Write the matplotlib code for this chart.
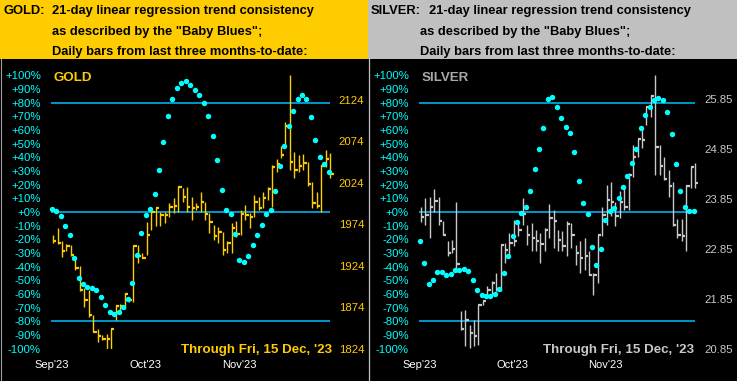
import matplotlib
matplotlib.use('Agg')
import matplotlib.pyplot as plt
from matplotlib.patches import Rectangle
from matplotlib.lines import Line2D

plt.rcParams['font.family'] = ['Liberation Sans', 'DejaVu Sans']

# ---- data ----
months = ["Sep'23", "Oct'23", "Nov'23"]
month_pos = [0, 21, 42]
pct_ticks = list(range(-100, 101, 10))
levels = [80, 0, -80]

gold_blues = [2, 1, -3, -10.5, -17, -33.5, -48, -53, -54.5, -55.5,
              -57.4, -62, -67.7, -73.5, -74.5, -72.8, -69.4, -64, -51.6, -31.8,
              -15.2, -2.5, 2, 12.9, 30.5, 51, 70, 82.3, 90.5, 94.7,
              95.7, 92.7, 88.9, 85.4, 80, 70.5, 55.9, 37.8, 16.3, 1.7,
              -1.7, -16.4, -35.4, -36.9, -32.5, -24.5, -17.1, -9.8, -1.7, 1.7,
              15.6, 33.9, 48.6, 62.7, 73.7, 82.3, 85.4, 82.3, 69.3, 52.5,
              40, 34.9, 29]
gold_high = [1961, 1969, 1953, 1950, 1949, 1935, 1923, 1897, 1895, 1864,
             1848, 1840, 1842, 1848, 1876, 1878, 1891, 1885, 1947, 1949,
             1939, 1976, 1990, 1995, 1989, 1989, 1999, 2005, 2020, 2017,
             2019, 2007, 1999, 2013, 2001, 1987, 1973, 1971, 1965, 1953,
             1975, 1978, 1991, 1997, 1987, 2009, 2007, 2013, 2019, 2045,
             2052, 2068, 2097, 2153, 2061, 2057, 2058, 2049, 2025, 2012,
             2045, 2063, 2060]
gold_low = [1951, 1950, 1934, 1941, 1935, 1919, 1893, 1874, 1862, 1844,
            1832, 1834, 1824, 1824, 1858, 1868, 1872, 1880, 1880, 1927,
            1933, 1937, 1967, 1972, 1972, 1975, 1983, 1987, 1989, 2001,
            1989, 1979, 1991, 1989, 1979, 1963, 1955, 1951, 1937, 1939,
            1939, 1958, 1961, 1979, 1969, 1983, 1991, 1993, 2003, 1995,
            2037, 2053, 2068, 2039, 2029, 2037, 2039, 2020, 1993, 1993,
            1989, 2043, 2030]
gold_close = [1954, 1951, 1941, 1947, 1937, 1921, 1895, 1882, 1864, 1844,
              1839, 1836, 1835, 1848, 1875, 1875, 1890, 1882, 1947, 1935,
              1933, 1961, 1989, 1993, 1985, 1985, 1995, 1996, 2019, 2007,
              1995, 1993, 1995, 2001, 1986, 1977, 1959, 1965, 1943, 1951,
              1969, 1962, 1986, 1985, 1982, 2001, 1993, 2005, 2016, 2043,
              2046, 2057, 2092, 2049, 2039, 2044, 2047, 2022, 1999, 1996,
              2044, 2052, 2034]
gold_prices = [1824, 1874, 1924, 1974, 2024, 2074, 2124]

silver_blues = [-21.0, -37.6, -52.5, -49.6, -44.2, -44.2, -46.4, -45.4, -42.3, -42.3,
                -41.5, -43.5, -49.6, -56.9, -60.6, -61.8, -61.1, -59.8, -56.4, -44.7,
                -32.5, -17.8, -7.0, -0.5, 3.4, 15.1, 31.2, 45.9, 61.8, 83,
                83.8, 76.6, 68.4, 62, 57.6, 43.7, 22.4, 6.3, -1.7, -25.9,
                -39.1, -26.9, -6.2, 0.5, 2.7, 10, 18, 26.1, 35.6, 45.9,
                61.2, 70.8, 76.6, 81.8, 83.2, 81.8, 73, 56.8, 34.9, 15.1,
                3.4, 0.4, 0.4]
silver_high = [23.70, 23.87, 23.90, 24.05, 23.90, 23.40, 23.00, 23.03, 23.79, 21.60,
               21.63, 21.33, 21.43, 21.73, 21.83, 22.10, 22.20, 22.37, 22.93, 22.97,
               23.17, 23.43, 23.40, 23.88, 23.33, 23.37, 23.23, 23.17, 23.27, 23.75,
               23.63, 23.23, 23.20, 23.40, 23.37, 22.93, 23.00, 23.07, 22.80, 22.37,
               23.13, 23.70, 24.14, 24.20, 23.80, 24.02, 24.12, 24.37, 24.94, 25.06,
               25.27, 25.70, 25.94, 26.34, 24.94, 24.70, 24.44, 24.20, 23.45, 23.45,
               24.14, 24.50, 24.58]
silver_low = [23.38, 23.33, 23.07, 23.60, 23.33, 23.13, 22.70, 22.77, 22.43, 21.23,
              20.90, 20.87, 20.90, 20.93, 21.73, 21.93, 21.93, 22.00, 22.00, 22.57,
              22.70, 22.90, 23.10, 23.33, 22.93, 22.80, 22.80, 22.57, 22.80, 23.07,
              22.87, 22.80, 22.80, 22.70, 22.87, 22.53, 22.37, 22.43, 22.33, 21.93,
              22.17, 23.10, 23.33, 23.50, 23.30, 23.47, 23.63, 23.63, 24.30, 24.70,
              24.87, 25.34, 25.50, 24.33, 24.33, 24.24, 23.90, 23.30, 23.07, 23.00,
              22.80, 24.07, 24.07]
silver_close = [23.49, 23.53, 23.70, 23.82, 23.40, 23.13, 22.77, 22.85, 22.55, 21.25,
                21.43, 21.17, 21.11, 21.73, 21.80, 22.02, 22.17, 22.03, 22.93, 22.83,
                22.97, 23.00, 23.23, 23.55, 23.13, 23.07, 23.00, 22.95, 23.23, 23.47,
                23.40, 23.03, 22.90, 23.35, 23.13, 22.77, 22.67, 22.70, 22.33, 22.33,
                23.13, 23.52, 23.83, 23.80, 23.50, 23.80, 23.70, 24.34, 24.70, 25.05,
                25.04, 25.70, 25.92, 24.90, 24.52, 24.26, 24.12, 23.33, 23.13, 23.10,
                24.12, 24.49, 24.18]
silver_prices = [20.85, 21.85, 22.85, 23.85, 24.85, 25.85]

W, H = 737, 381
fig = plt.figure(figsize=(W / 100, H / 100), dpi=100, facecolor='black')


def rect(x, y, w, h):
    return [x / W, 1 - (y + h) / H, w / W, h / H]


def fx(x):
    return x / W


def fy(y):
    return 1 - y / H


# headers
fig.add_artist(Rectangle((0, fy(59)), fx(367.5), 59 / H, transform=fig.transFigure,
                         facecolor='#FFCC00', edgecolor='none'))
fig.add_artist(Rectangle((fx(368), fy(59)), fx(W - 368), 59 / H, transform=fig.transFigure,
                         facecolor='#C0C0C0', edgecolor='none'))
fig.add_artist(Line2D([fx(368.5), fx(368.5)], [0, fy(59)], transform=fig.transFigure,
                      color='#C0C0C0', lw=0.9))
fig.add_artist(Line2D([fx(0.5), fx(0.5)], [0, fy(59)], transform=fig.transFigure,
                      color='#A0A0A0', lw=0.8))

hdr = dict(fontsize=9.3, fontweight='bold', color='black', va='baseline')
fig.text(fx(4), fy(14), 'GOLD:', **hdr)
fig.text(fx(52), fy(14), '21-day linear regression trend consistency', **hdr)
fig.text(fx(52), fy(35), 'as described by the "Baby Blues";', **hdr)
fig.text(fx(52), fy(55), 'Daily bars from last three months-to-date:', **hdr)
fig.text(fx(371), fy(14), 'SILVER:', **hdr)
fig.text(fx(429), fy(14), '21-day linear regression trend consistency', **hdr)
fig.text(fx(420), fy(35), 'as described by the "Baby Blues";', **hdr)
fig.text(fx(420), fy(55), 'Daily bars from last three months-to-date:', **hdr)


def pct_label(v):
    return ('+%d%%' % v) if v >= 0 else ('%d%%' % v)


def panel(pos, xlim, blues, hi, lo, cl, plim, pticks, pfmt, bar_col, name, name_col,
          through_x):
    ax = fig.add_axes(pos)
    ax.set_facecolor('none')
    for s in ax.spines.values():
        s.set_visible(False)
    n = len(blues)
    idx = list(range(n))
    ax.set_xlim(*xlim)
    ax.set_ylim(-100, 100)
    ax.set_yticks(pct_ticks)
    ax.set_yticklabels([pct_label(v) for v in pct_ticks])
    ax.set_xticks(month_pos)
    ax.set_xticklabels(months)
    ax.tick_params(axis='y', length=0, pad=2.2, labelsize=8.2, labelcolor='#00FFFF')
    ax.tick_params(axis='x', length=0, pad=8, labelsize=8, labelcolor='white')
    ax.hlines(levels, -0.05, n - 1 + 0.3, color='#00BFFF', lw=1.1, zorder=1)

    ax2 = ax.twinx()
    ax2.set_facecolor('none')
    for s in ax2.spines.values():
        s.set_visible(False)
    ax2.set_ylim(*plim)
    ax2.set_yticks(pticks)
    ax2.set_yticklabels([pfmt % p for p in pticks])
    ax2.tick_params(axis='y', length=0, pad=2, labelsize=8.2, labelcolor=bar_col)
    bx = [i + 0.3 for i in idx]
    ax2.vlines(bx, lo, hi, color=bar_col, lw=1.0, zorder=2)
    ax2.hlines(cl, bx, [b + 0.75 for b in bx], color=bar_col, lw=1.6, zorder=2)

    ax3 = ax.twinx()
    ax3.set_ylim(-100, 100)
    ax3.axis('off')
    ax3.plot(idx, blues, ls='none', marker='o', ms=3.9, mew=0, color='#00FFFF', zorder=3)

    ax.text(0.034, 0.978, name, transform=ax.transAxes, color=name_col, fontsize=9.6,
            fontweight='bold', va='baseline', ha='left')
    fig.text(fx(through_x), fy(353), "Through Fri, 15 Dec, '23", color=bar_col,
             fontsize=9.6, fontweight='bold', ha='right', va='baseline')
    return ax


panel(rect(44, 75.3, 292, 273.4), (-1.72, 63.6), gold_blues, gold_high, gold_low,
      gold_close, (1823.8, 2153.2), gold_prices, '%d', '#FFCC00', 'GOLD', '#FFCC00', 332)
panel(rect(412, 75.3, 290, 273.4), (-1.74, 63.87), silver_blues, silver_high, silver_low,
      silver_close, (20.857, 26.33), silver_prices, '%.2f', '#C8C8C8', 'SILVER', '#A8A8A8',
      694)

fig.savefig('out.png', dpi=100, facecolor='black')
